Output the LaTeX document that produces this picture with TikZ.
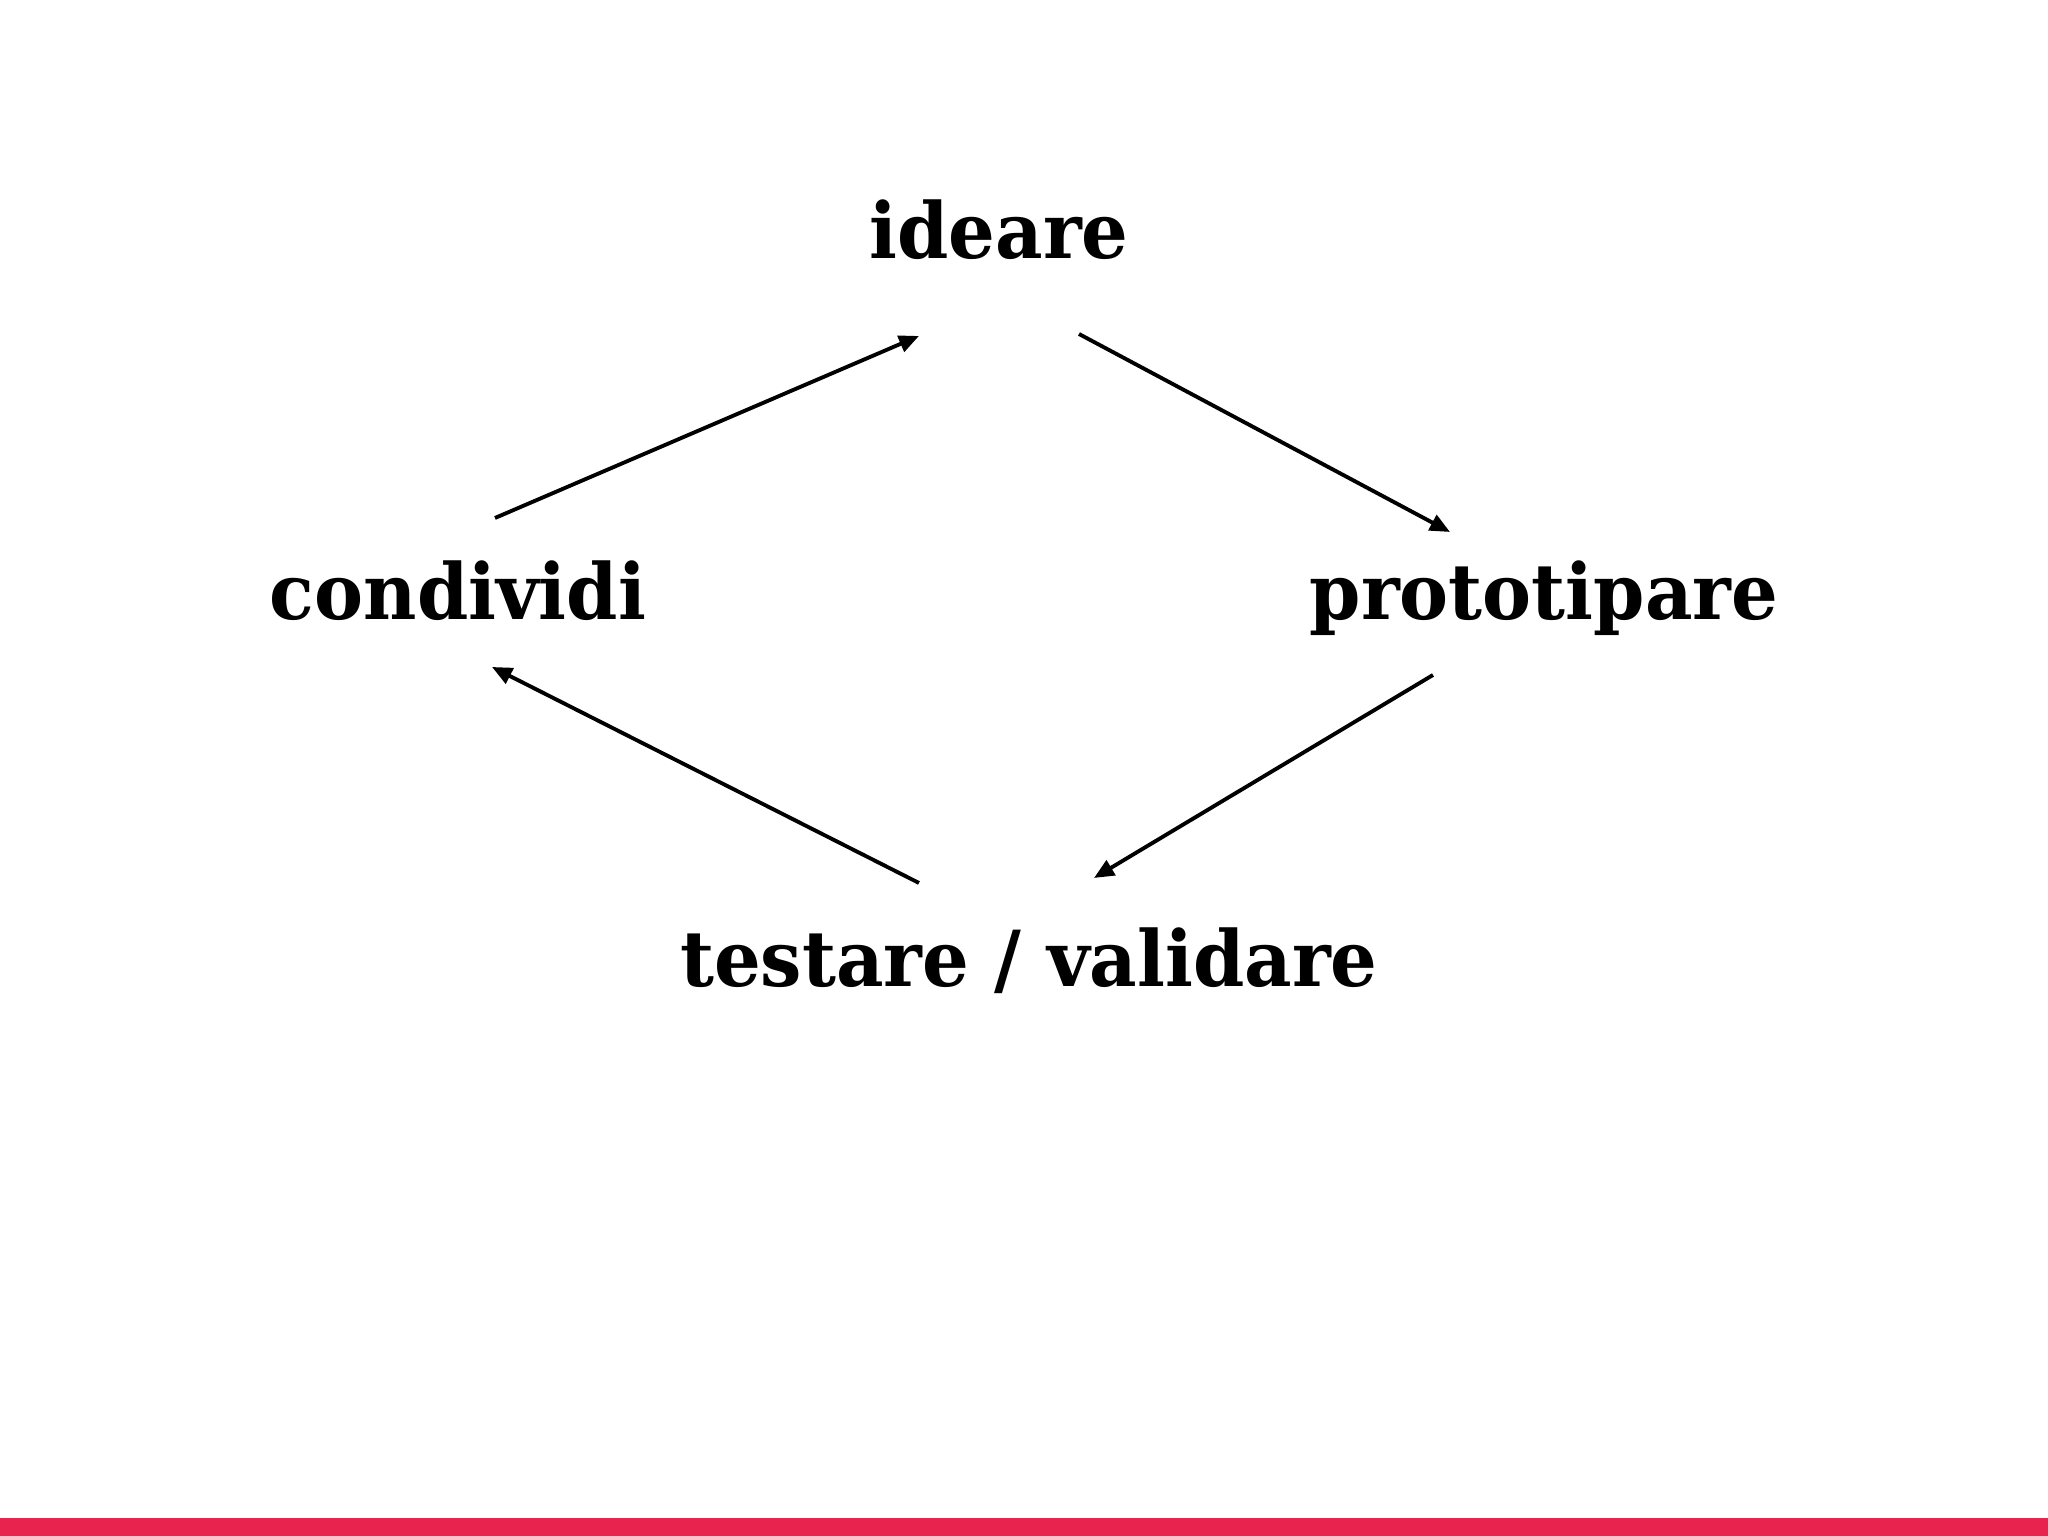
\documentclass[tikz,border=0pt]{standalone}
\usepackage{fontspec}
\setmainfont[FakeStretch=0.95]{DejaVu Serif}
\usepackage{tikz}
\usetikzlibrary{arrows.meta}
\usetikzlibrary{positioning}

\definecolor{barred}{RGB}{232,35,78}

\begin{document}
\begin{tikzpicture}[
			every node/.style={font=\bfseries\fontsize{22}{26}\selectfont, inner sep=0pt, anchor=base},
			link/.style={line width=1.1pt, -{Triangle[length=2mm, width=1.7mm]}}
		]

		% page and red bar
		\fill[white] (0,0) rectangle (20.48,15.36);
		\fill[barred] (0,0) rectangle (20.48,0.18);

		% the four steps
		\node (idea) at (9.99,12.77) {ideare};
		\node (cond) at (4.58,9.16) {condividi};
		\node (proto) at (15.44,9.16) {prototipare};
		\node (test) at (10.29,5.49) {testare / validare};

		% cycle
		\draw[link] ([shift={(0.37,1.02)}]cond.base) -- ([shift={(-0.80,-0.77)}]idea.base);
		\draw[link] ([shift={(0.80,-0.75)}]idea.base) -- ([shift={(-0.94,0.88)}]proto.base);
		\draw[link] ([shift={(-1.11,-0.55)}]proto.base) -- ([shift={(0.65,1.09)}]test.base);
		\draw[link] ([shift={(-1.10,1.04)}]test.base) -- ([shift={(0.34,-0.47)}]cond.base);

	\end{tikzpicture}
\end{document}
